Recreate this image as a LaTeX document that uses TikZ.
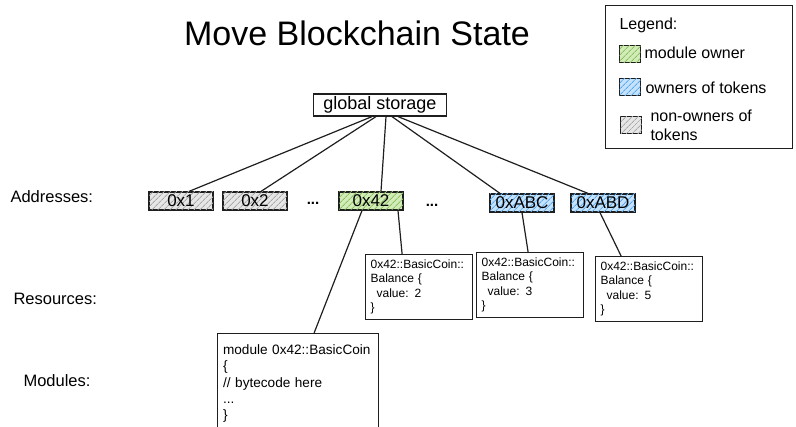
\documentclass[tikz,border=0pt]{standalone}
\usepackage{fontspec}
\setmainfont{Liberation Sans}
\usetikzlibrary{patterns.meta}
\definecolor{ink}{HTML}{1E1E1E}
\definecolor{greenfill}{HTML}{D2ECB8}
\definecolor{greenline}{HTML}{8CC063}
\definecolor{bluefill}{HTML}{C4E2FB}
\definecolor{blueline}{HTML}{5AA8EE}
\definecolor{grayfill}{HTML}{E6E6E6}
\definecolor{grayline}{HTML}{A8A8A8}
\tikzset{
  sk/.style={draw=ink, line width=1.2pt},
  hatch/.style={fill=#1fill, postaction={pattern={Lines[angle=45,distance=4pt,line width=0.9pt]}, pattern color=#1line}},
  addr/.style={sk, minimum width=64pt, minimum height=18pt, inner sep=0pt, font=\fontsize{17}{17}\selectfont},
  graybox/.style={addr, hatch=gray},
  greenbox/.style={addr, hatch=green},
  bluebox/.style={addr, hatch=blue},
  res/.style={sk, fill=white, minimum width=106pt, minimum height=64pt, inner sep=5pt, align=left, anchor=north west, text width=97pt, font=\fontsize{12}{14.5}\selectfont},
  rowlabel/.style={anchor=west, font=\fontsize{16.5}{16.5}\selectfont},
  link/.style={ink, line width=1.2pt},
  swatch/.style={sk, minimum width=21pt, minimum height=17pt, inner sep=0pt},
  legtext/.style={anchor=west, font=\fontsize{16}{19}\selectfont, align=left},
}
\begin{document}
\begin{tikzpicture}[x=1pt,y=-1pt]
\useasboundingbox (0,0) rectangle (796,427);

% title
\node[font=\fontsize{34}{34}\selectfont] (title) at (357,33) {Move Blockchain State};

% legend
\node[sk, minimum width=187pt, minimum height=143pt, anchor=north west] (legend) at (605,5) {};
\node[legtext] (legtitle) at (616,25) {Legend:};
\node[swatch, hatch=green] (swg) at (630,54) {};
\node[legtext] (legg) at (641,53) {module owner};
\node[swatch, hatch=blue] (swb) at (630,87) {};
\node[legtext] (legb) at (642,88) {owners of tokens};
\node[swatch, hatch=gray] (swr) at (631,125) {};
\node[legtext] (legr) at (647,125) {non-owners of\\tokens};

% global storage
\node[sk, minimum width=133pt, minimum height=22pt, inner sep=0pt, font=\fontsize{18}{18}\selectfont] (gs) at (380,105) {global storage};

% addresses
\node[graybox] (a1) at (181,201) {0x1};
\node[graybox] (a2) at (255,201) {0x2};
\node (d1) at (313,203) {\fontsize{15}{15}\selectfont\textbf{...}};
\node[greenbox] (a42) at (371,201) {0x42};
\node (d2) at (432,205) {\fontsize{15}{15}\selectfont\textbf{...}};
\node[bluebox] (aabc) at (522,203) {0xABC};
\node[bluebox] (aabd) at (603,203) {0xABD};

% connectors from global storage
\draw[link] ([xshift=-8pt]gs.south) -- ([xshift=8pt]a1.north);
\draw[link] ([xshift=-4pt]gs.south) -- ([xshift=6pt]a2.north);
\draw[link] ([xshift=6pt]gs.south) -- ([xshift=10pt]a42.north);
\draw[link] ([xshift=12pt]gs.south) -- ([xshift=-22pt]aabc.north);
\draw[link] ([xshift=18pt]gs.south) -- ([xshift=-15pt]aabd.north);

% row labels
\node[rowlabel] (lab1) at (7,197) {Addresses:};
\node[rowlabel] (lab2) at (10,299) {Resources:};
\node[rowlabel] (lab3) at (20,381) {Modules:};

% resources
\node[res] (r1) at (365,254) {0x42::BasicCoin::\\Balance \{\\\hspace*{6pt}value: 2\\\}};
\node[res] (r2) at (476,252) {0x42::BasicCoin::\\Balance \{\\\hspace*{6pt}value: 3\\\}};
\node[res] (r3) at (595,256) {0x42::BasicCoin::\\Balance \{\\\hspace*{6pt}value: 5\\\}};

% module
\node[res, minimum width=161pt, minimum height=100pt, text width=150pt, font=\fontsize{13.6}{16.3}\selectfont, inner sep=5pt] (m) at (217,333) {module 0x42::BasicCoin\\\{\\// bytecode here\\...\\\}};

% connectors to resources and module
\draw[link] ([xshift=27pt]a42.south) -- ([xshift=-17pt]r1.north);
\draw[link] (aabc.south) -- ([xshift=-2pt]r2.north);
\draw[link] ([xshift=-3pt]aabd.south) -- ([xshift=-28pt]r3.north);
\draw[link] ([xshift=-9pt]a42.south) -- ([xshift=16pt]m.north);
\end{tikzpicture}
\end{document}
